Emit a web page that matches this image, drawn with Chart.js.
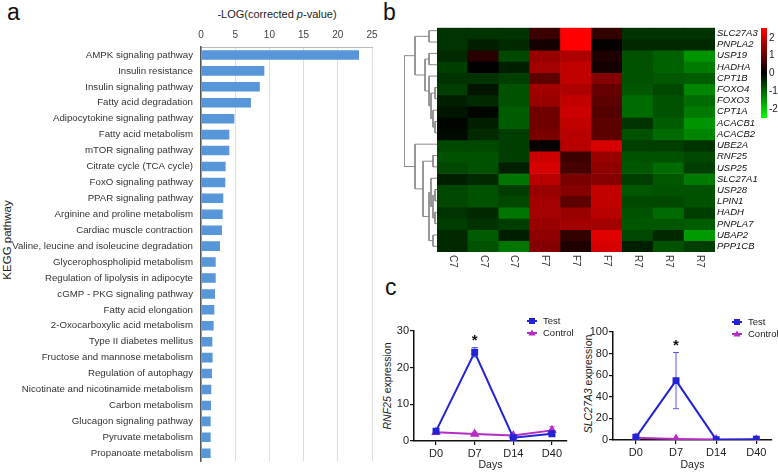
<!DOCTYPE html>
<html>
<head>
<meta charset="utf-8">
<script src="https://cdn.jsdelivr.net/npm/chart.js@4.4.0/dist/chart.umd.min.js"></script>
<style>
  body { margin: 0; background: #fff; width: 778px; height: 475px; position: relative; overflow: hidden;
         font-family: "Liberation Sans", Arial, sans-serif; color: #222; }
  canvas { position: absolute; }
  .txt { position: absolute; white-space: nowrap; line-height: 1; }
  .panel { font-size: 23px; color: #111; }
  .vert { transform: translate(-50%, -50%) rotate(-90deg); }
</style>
</head>
<body>
<div class="txt panel" style="left:7px;top:1px">a</div>
<div class="txt panel" style="left:383px;top:1px">b</div>
<div class="txt panel" style="left:385px;top:276px">c</div>
<div class="txt" style="left:277px;top:14px;font-size:11px;transform:translate(-50%,-50%)">-LOG(corrected <i>p</i>-value)</div>
<div class="txt vert" style="left:8px;top:240px;font-size:11.5px">KEGG pathway</div>
<div class="txt vert" style="left:387px;top:386px;font-size:10.5px"><i>RNF25</i> expression</div>
<div class="txt vert" style="left:588px;top:384px;font-size:10.5px"><i>SLC27A3</i> expression</div>

<canvas id="barA" width="385" height="475" style="left:0;top:0"></canvas>
<canvas id="dendro" width="33" height="227" style="left:404px;top:25px"></canvas>
<canvas id="heat" width="340" height="252" style="left:437px;top:20px"></canvas>
<canvas id="cbar" width="17" height="106" style="left:761px;top:20px"></canvas>
<canvas id="rnf" width="196" height="175" style="left:384px;top:300px"></canvas>
<canvas id="slc" width="195" height="175" style="left:583px;top:300px"></canvas>

<script>
// ---- panel a: KEGG enrichment ----
const pathways = [
  'AMPK signaling pathway', 'Insulin resistance', 'Insulin signaling pathway', 'Fatty acid degradation',
  'Adipocytokine signaling pathway', 'Fatty acid metabolism', 'mTOR signaling pathway',
  'Citrate cycle (TCA cycle)', 'FoxO signaling pathway', 'PPAR signaling pathway',
  'Arginine and proline metabolism', 'Cardiac muscle contraction',
  'Valine, leucine and isoleucine degradation', 'Glycerophospholipid metabolism',
  'Regulation of lipolysis in adipocyte', 'cGMP - PKG signaling pathway', 'Fatty acid elongation',
  '2-Oxocarboxylic acid metabolism', 'Type II diabetes mellitus', 'Fructose and mannose metabolism',
  'Regulation of autophagy', 'Nicotinate and nicotinamide metabolism', 'Carbon metabolism',
  'Glucagon signaling pathway', 'Pyruvate metabolism', 'Propanoate metabolism'
];
const pathwayScores = [23.1, 9.26, 8.6, 7.3, 4.87, 4.14, 4.14, 3.6, 3.55, 3.26, 3.17, 3.07, 2.78,
  2.15, 2.15, 2.05, 1.95, 1.85, 1.66, 1.7, 1.6, 1.5, 1.46, 1.41, 1.41, 1.4];

// ---- panel b: heatmap ----
const heatCols = ['C7', 'C7', 'C7', 'F7', 'F7', 'F7', 'R7', 'R7', 'R7'];
const genes = ['SLC27A3', 'PNPLA2', 'USP19', 'HADHA', 'CPT1B', 'FOXO4', 'FOXO3', 'CPT1A', 'ACACB1',
  'ACACB2', 'UBE2A', 'RNF25', 'USP25', 'SLC27A1', 'USP28', 'LPIN1', 'HADH', 'PNPLA7', 'UBAP2', 'PPP1CB'];
const heatValues = [
  [-0.5, -0.5, -0.5, 0.6, 2.5, 0.5, -0.5, -0.5, -0.5],
  [-0.5, -0.3, -0.4, 0.2, 2.5, 0.05, -0.4, -0.4, -0.4],
  [-0.4, 0.4, -0.7, 1.5, 1.7, 0.3, -0.8, -0.95, -1.45],
  [-0.6, 0.0, -0.3, 1.6, 1.9, 0.2, -0.8, -0.95, -1.2],
  [-0.5, -0.5, -0.6, 0.9, 1.9, 1.3, -0.8, -0.85, -0.9],
  [-0.6, -0.2, -0.8, 1.6, 1.7, 1.0, -0.85, -0.7, -1.3],
  [-0.3, -0.4, -0.8, 1.5, 1.9, 0.9, -1.05, -0.8, -1.05],
  [-0.2, -0.05, -0.9, 1.1, 2.0, 0.8, -1.05, -0.8, -1.2],
  [-0.05, -0.3, -0.9, 1.1, 1.9, 0.9, -0.5, -0.9, -1.45],
  [-0.1, -0.4, -0.6, 1.2, 1.8, 0.9, -0.8, -1.05, -1.3],
  [-0.7, -0.7, -0.6, 0.05, 1.8, 2.1, -0.6, -0.6, -0.5],
  [-0.8, -0.8, -0.6, 2.0, 0.6, 1.5, -0.8, -0.8, -0.7],
  [-0.7, -0.8, -0.3, 2.1, 0.7, 1.4, -0.85, -1.05, -0.6],
  [-0.3, -0.4, -1.15, 1.8, 1.2, 1.3, -0.6, -0.85, -1.2],
  [-0.7, -0.8, -0.6, 1.5, 1.3, 1.9, -0.85, -0.8, -0.8],
  [-0.7, -0.8, -0.7, 1.6, 0.9, 1.9, -0.7, -0.7, -0.8],
  [-0.5, -0.4, -1.15, 1.6, 1.5, 1.8, -0.8, -1.05, -0.6],
  [-0.6, -0.5, -0.6, 1.5, 1.6, 1.6, -0.85, -0.85, -0.9],
  [-0.4, -0.9, -0.3, 1.4, 0.5, 2.2, -0.7, -0.4, -1.5],
  [-0.4, -0.8, -1.15, 1.3, 0.3, 2.1, -0.3, -0.8, -0.6]
];
// row clustering: [child, child, height]; numbers are rows, 'nK' is the K-th merge
const dendroMerges = [
  [0, 1, 8], [2, 3, 8], [5, 6, 2], [8, 9, 2], [7, 'n3', 4], ['n2', 'n4', 6], [4, 'n5', 8],
  ['n1', 'n6', 12], ['n0', 'n7', 22],
  [11, 12, 4], [14, 15, 2], [16, 17, 2], ['n10', 'n11', 4], [13, 'n12', 6], [18, 19, 4],
  ['n13', 'n14', 8], ['n9', 'n15', 14], [10, 'n16', 22],
  ['n8', 'n17', 33]
];
const colorbarRange = [-2.5, 2.55];
const colorbarTicks = [-2, -1, 0, 1, 2];

// ---- panel c: time course ----
const days = ['D0', 'D7', 'D14', 'D40'];
const rnfTest = [2.7, 24.2, 0.9, 2.0];
const rnfTestErr = [0.3, 1.3, 0.2, 0.4];
const rnfControl = [2.4, 1.9, 1.5, 2.9];
const rnfControlErr = [0.3, 0.5, 0.2, 1.0];
const rnfSignificant = [false, true, false, false];
const slcTest = [2.5, 55, 0.3, 0.8];
const slcTestErr = [0.5, 26, 0.2, 0.3];
const slcControl = [2.0, 1.0, 0.5, 0.2];
const slcControlErr = [0.3, 0.2, 0.1, 0.1];
const slcSignificant = [false, true, false, false];

Chart.defaults.font.family = '"Liberation Sans", Arial, sans-serif';
Chart.defaults.color = '#222';
Chart.defaults.animation = false;
Chart.defaults.responsive = false;
Chart.defaults.plugins.legend.display = false;
Chart.defaults.plugins.tooltip.enabled = false;

new Chart(document.getElementById('barA'), {
  type: 'bar',
  data: {
    labels: pathways,
    datasets: [{ data: pathwayScores, backgroundColor: '#5797d9', barPercentage: 0.6, categoryPercentage: 1 }]
  },
  options: {
    indexAxis: 'y',
    layout: { padding: { right: 13 } },
    scales: {
      x: {
        position: 'top', min: 0, max: 25,
        ticks: { stepSize: 5, color: '#444', font: { size: 10 }, padding: 6 },
        grid: { color: '#dedede', drawTicks: false },
        border: { color: '#bbb' },
        afterFit: s => { s.height = 47; }
      },
      y: {
        ticks: { color: '#333', font: { size: 9.7 }, padding: 8, autoSkip: false },
        grid: { display: false, drawTicks: false },
        border: { color: '#555', width: 1.5 },
        afterFit: s => { s.width = 201; }
      }
    }
  }
});

// dendrogram
const nodePos = {};
function nodeAt(c) { return typeof c === 'number' ? { h: 0, y: c + 0.5 } : nodePos[c]; }
const dendroSets = dendroMerges.map((m, k) => {
  const a = nodeAt(m[0]), b = nodeAt(m[1]), h = m[2];
  nodePos['n' + k] = { h: h, y: (a.y + b.y) / 2 };
  return {
    data: [{ x: a.h, y: a.y }, { x: h, y: a.y }, { x: h, y: b.y }, { x: b.h, y: b.y }],
    showLine: true, borderColor: '#8a8a8a', borderWidth: 1, pointRadius: 0, clip: false
  };
});
new Chart(document.getElementById('dendro'), {
  type: 'scatter',
  data: { datasets: dendroSets },
  options: {
    layout: { padding: 0 },
    scales: {
      x: { display: false, min: 0, max: 33, reverse: true },
      y: { display: false, min: 0, max: genes.length, reverse: true }
    }
  }
});

function heatColor(v) {
  const t = Math.max(-1, Math.min(1, v / 2.5));
  const c = Math.round(Math.abs(t) * 255);
  return t >= 0 ? 'rgb(' + c + ',0,0)' : 'rgb(0,' + c + ',0)';
}
const colLabels = {
  id: 'colLabels',
  afterDraw(chart) {
    const { ctx, chartArea } = chart;
    const x = chart.scales.x;
    ctx.save();
    ctx.font = '10px "Liberation Sans", Arial, sans-serif';
    ctx.fillStyle = '#333';
    ctx.textBaseline = 'middle';
    chart.data.labels.forEach((lab, i) => {
      ctx.save();
      ctx.translate(x.getPixelForTick(i), chartArea.bottom + 3);
      ctx.rotate(Math.PI / 2);
      ctx.fillText(lab, 0, 0);
      ctx.restore();
    });
    ctx.restore();
  }
};
new Chart(document.getElementById('heat'), {
  type: 'bar',
  data: {
    labels: heatCols,
    datasets: genes.map((g, i) => ({
      label: g,
      data: heatCols.map(() => [i, i + 1]),
      backgroundColor: heatValues[i].map(heatColor),
      grouped: false, barPercentage: 1, categoryPercentage: 1, borderWidth: 0
    }))
  },
  options: {
    layout: { padding: { top: 5 } },
    scales: {
      x: { grid: { display: false, drawTicks: false }, border: { display: false }, ticks: { display: false },
           afterFit: s => { s.height = 20; } },
      y: { display: false, min: 0, max: genes.length, reverse: true },
      genes: {
        axis: 'y', type: 'category', labels: genes, position: 'right', offset: true,
        grid: { display: false, drawTicks: false }, border: { display: false },
        ticks: { font: { size: 9.5, style: 'italic' }, color: '#111', padding: 2, autoSkip: false },
        afterFit: s => { s.width = 62; }
      }
    }
  },
  plugins: [colLabels]
});

new Chart(document.getElementById('cbar'), {
  type: 'bar',
  data: {
    labels: [''],
    datasets: [{
      data: [colorbarRange], barPercentage: 1, categoryPercentage: 1,
      backgroundColor: c => {
        const a = c.chart.chartArea;
        if (!a) return '#000';
        const g = c.chart.ctx.createLinearGradient(0, a.bottom, 0, a.top);
        const mid = -colorbarRange[0] / (colorbarRange[1] - colorbarRange[0]);
        g.addColorStop(0, 'rgb(0,255,0)');
        g.addColorStop(mid, '#000');
        g.addColorStop(1, 'rgb(255,0,0)');
        return g;
      }
    }]
  },
  options: {
    layout: { padding: { top: 5, bottom: 5 } },
    scales: {
      x: { display: false },
      y: {
        position: 'right', min: colorbarRange[0], max: colorbarRange[1],
        afterBuildTicks: s => { s.ticks = colorbarTicks.map(v => ({ value: v })); },
        grid: { display: false, drawTicks: false }, border: { display: false },
        ticks: { font: { size: 10 }, color: '#222', padding: 2 },
        afterFit: s => { s.width = 11; }
      }
    }
  }
});

// error bars, significance star and a small legend for panel c
const extras = {
  id: 'extras',
  beforeDatasetsDraw(chart) {
    const { ctx } = chart;
    const x = chart.scales.x, y = chart.scales.y;
    chart.data.datasets.forEach(ds => {
      ctx.save();
      ctx.strokeStyle = ds.errColor;
      ctx.lineWidth = 1;
      ds.data.forEach((p, i) => {
        const e = ds.errors[i];
        const px = x.getPixelForValue(p.x);
        const top = y.getPixelForValue(p.y + e), bot = y.getPixelForValue(Math.max(0, p.y - e));
        ctx.beginPath();
        ctx.moveTo(px, top); ctx.lineTo(px, bot);
        ctx.moveTo(px - 3, top); ctx.lineTo(px + 3, top);
        ctx.moveTo(px - 3, bot); ctx.lineTo(px + 3, bot);
        ctx.stroke();
      });
      ctx.restore();
    });
  },
  afterDraw(chart) {
    const { ctx, chartArea } = chart;
    const x = chart.scales.x, y = chart.scales.y;
    const test = chart.data.datasets[0];
    ctx.save();
    ctx.fillStyle = '#111';
    ctx.font = 'bold 15px "Liberation Sans", Arial, sans-serif';
    ctx.textAlign = 'center';
    ctx.textBaseline = 'middle';
    chart.options.significant.forEach((s, i) => {
      if (!s) return;
      const p = test.data[i];
      ctx.fillText('*', x.getPixelForValue(p.x), y.getPixelForValue(p.y + test.errors[i]) - 7);
    });
    ctx.font = '9.5px "Liberation Sans", Arial, sans-serif';
    ctx.textAlign = 'left';
    chart.data.datasets.forEach((ds, k) => {
      const lx = chartArea.right - 40, ly = chartArea.top - 10 + k * 12;
      ctx.strokeStyle = ds.borderColor;
      ctx.lineWidth = 2;
      ctx.beginPath(); ctx.moveTo(lx, ly); ctx.lineTo(lx + 10, ly); ctx.stroke();
      ctx.fillStyle = ds.borderColor;
      ctx.beginPath();
      if (ds.pointStyle === 'rect') {
        ctx.rect(lx + 2, ly - 3, 6, 6);
      } else {
        ctx.moveTo(lx + 5, ly - 3.5); ctx.lineTo(lx + 8.5, ly + 2.5); ctx.lineTo(lx + 1.5, ly + 2.5); ctx.closePath();
      }
      ctx.fill();
      ctx.fillStyle = '#222';
      ctx.fillText(ds.label, lx + 16, ly);
    });
    ctx.restore();
  }
};

function timeChart(id, test, testErr, control, controlErr, yMax, yStep, sig, padTop, xHeight, padRight) {
  const pts = arr => arr.map((v, i) => ({ x: i, y: v }));
  return new Chart(document.getElementById(id), {
    type: 'line',
    data: {
      datasets: [
        { label: 'Test', data: pts(test), errors: testErr, borderColor: '#2323d6', errColor: '#5a5ae0',
          backgroundColor: '#2323d6', pointStyle: 'rect', pointRadius: 3.5, borderWidth: 2, tension: 0 },
        { label: 'Control', data: pts(control), errors: controlErr, borderColor: '#b52cc4', errColor: '#c86ad2',
          backgroundColor: '#b52cc4', pointStyle: 'triangle', pointRadius: 3.5, borderWidth: 2, tension: 0 }
      ]
    },
    options: {
      significant: sig,
      layout: { padding: { top: padTop, right: padRight, bottom: 0, left: 0 } },
      scales: {
        x: {
          type: 'linear', min: -0.57, max: 3.39,
          afterBuildTicks: s => { s.ticks = days.map((d, i) => ({ value: i })); },
          ticks: { callback: v => days[v], font: { size: 11 }, color: '#222', padding: 2 },
          grid: { drawOnChartArea: false, tickLength: 4, color: '#111', lineWidth: 1.2 },
          border: { color: '#111', width: 1.5 },
          title: { display: true, text: 'Days', font: { size: 10.5 }, color: '#222', padding: { top: 0, bottom: 4 } },
          afterFit: s => { s.height = xHeight; }
        },
        y: {
          min: 0, max: yMax,
          ticks: { stepSize: yStep, font: { size: 11 }, color: '#222', padding: 1 },
          grid: { drawOnChartArea: false, tickLength: 4, color: '#111', lineWidth: 1.2 },
          border: { color: '#111', width: 1.5 },
          afterFit: s => { s.width = 30; }
        }
      }
    },
    plugins: [extras]
  });
}
timeChart('rnf', rnfTest, rnfTestErr, rnfControl, rnfControlErr, 30, 10, rnfSignificant, 31, 34, 13);
timeChart('slc', slcTest, slcTestErr, slcControl, slcControlErr, 100, 20, slcSignificant, 32, 35, 6);
</script>
</body>
</html>
